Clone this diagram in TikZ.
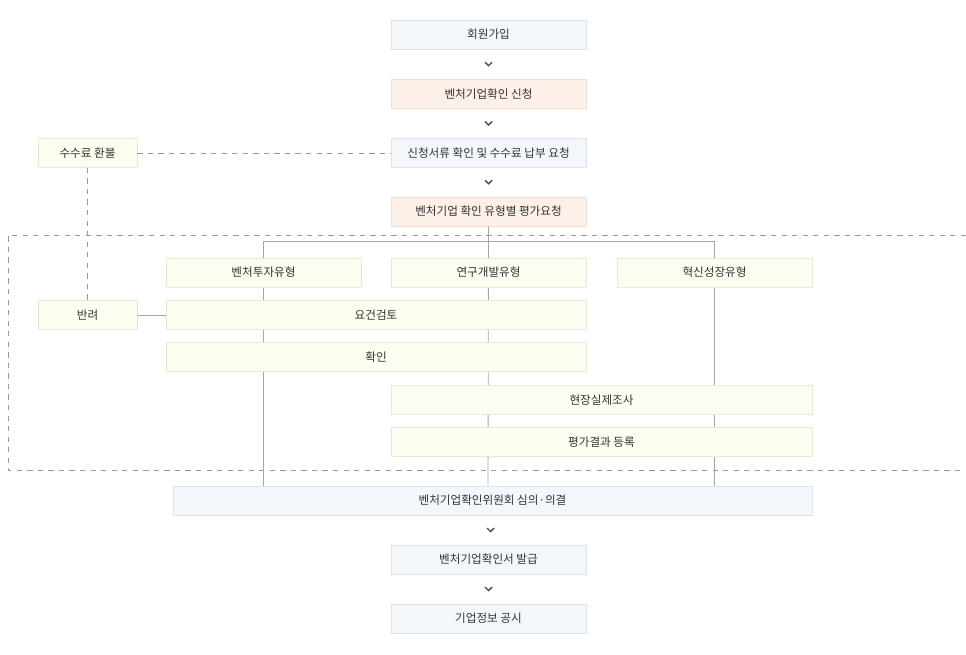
\documentclass[tikz,border=0pt]{standalone}
\usepackage{fontspec}
\newfontfamily\kr{Noto Sans CJK KR}
\usetikzlibrary{positioning,calc}
\definecolor{bluefill}{HTML}{F3F7FC}
\definecolor{blueline}{HTML}{DDE4EE}
\definecolor{orgfill}{HTML}{FDF0E9}
\definecolor{orgline}{HTML}{F0DDD3}
\definecolor{yelfill}{HTML}{FDFCF0}
\definecolor{yelline}{HTML}{EAE8D6}
\begin{document}
\begin{tikzpicture}[x=0.02cm, y=-0.02cm,
    box/.style={draw=blueline, fill=bluefill, minimum height=0.58cm, inner sep=0pt, font=\kr\fontsize{6.6}{8}\selectfont, text=black!80},
    obox/.style={box, draw=orgline, fill=orgfill},
    ybox/.style={box, draw=yelline, fill=yelfill},
    link/.style={draw=black!35, line width=0.5pt},
    dlink/.style={draw=black!40, dashed, line width=0.4pt},
    chev/.style={draw=black!70, line width=0.8pt},
]
\useasboundingbox (0,0) rectangle (966,655);

% main column
\node[box, minimum width=3.9cm] (join) at (488.5,34.5) {회원가입};
\node[obox, minimum width=3.9cm] (apply) at (488.5,94) {벤처기업확인 신청};
\node[box, minimum width=3.9cm] (docs) at (488.5,153) {신청서류 확인 및 수수료 납부 요청};
\node[obox, minimum width=3.9cm] (req) at (488.5,211.5) {벤처기업 확인 유형별 평가요청};
\node[ybox, minimum width=1.98cm] (refund) at (87.5,153) {수수료 환불};

% evaluation area
\draw[dlink] (966,235) -- (8,235) -- (8,470) -- (966,470);
\coordinate (bl) at (263,241);
\coordinate (br) at (714,241);
\draw[link] (bl) -- (br);
\draw[link] (req.south) -- (488,486);
\draw[link] (bl) -- (263,486);
\draw[link] (br) -- (714,486);
\draw[dlink] (refund.east) -- (docs.west);

\node[ybox, minimum width=3.9cm] (vc) at (263.5,272.5) {벤처투자유형};
\node[ybox, minimum width=3.9cm] (rd) at (488.5,272.5) {연구개발유형};
\node[ybox, minimum width=3.9cm] (inno) at (714.5,272.5) {혁신성장유형};
\node[ybox, minimum width=1.98cm] (reject) at (87.5,315) {반려};
\node[ybox, minimum width=8.4cm] (review) at (376,315) {요건검토};
\node[ybox, minimum width=8.4cm] (check) at (376,357) {확인};
\node[ybox, minimum width=8.42cm] (site) at (601.5,400) {현장실제조사};
\node[ybox, minimum width=8.42cm] (result) at (601.5,442) {평가결과 등록};
\draw[dlink] (refund.south) -- (reject.north);
\draw[link] (reject.east) -- (review.west);

% final steps
\node[box, minimum width=12.78cm] (board) at (492.5,500.5) {벤처기업확인위원회 심의·의결};
\node[box, minimum width=3.9cm] (issue) at (488.5,559.5) {벤처기업확인서 발급};
\node[box, minimum width=3.9cm] (notice) at (488.5,618.5) {기업정보 공시};

% chevrons
\foreach \a/\b in {join/apply, apply/docs, docs/req, board/issue, issue/notice}
  \draw[chev] ($(\a.south)!0.5!(\b.north)$) ++(-3.5,-2) -- ++(3.5,3.5) -- ++(3.5,-3.5);

\end{tikzpicture}
\end{document}
